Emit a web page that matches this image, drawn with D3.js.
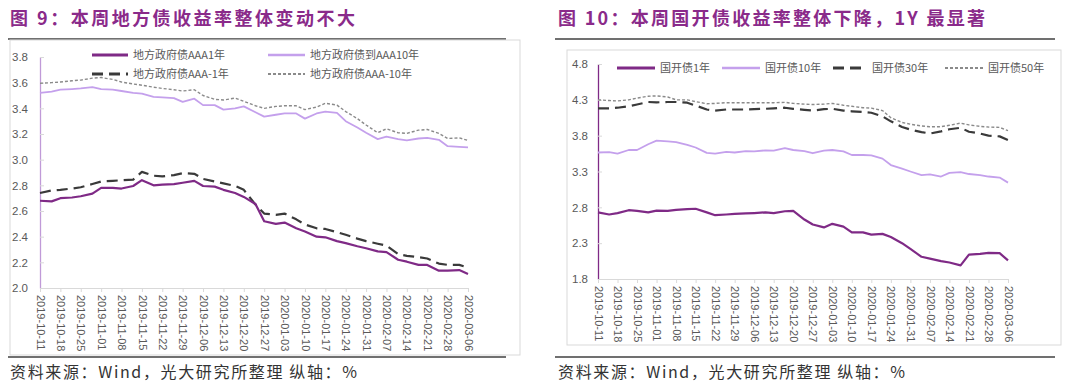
<!DOCTYPE html>
<html><head><meta charset="utf-8">
<script src="https://cdn.jsdelivr.net/npm/d3@7"></script>
<style>
html,body{margin:0;padding:0;background:#fff;}
svg{display:block;}
</style></head>
<body>
<svg id="c" width="1080" height="390"></svg>
<script>
// ---------- DATA ----------
const dates = ["2019-10-11","2019-10-15","2019-10-18","2019-10-22","2019-10-25","2019-10-29","2019-11-01","2019-11-05","2019-11-08","2019-11-12","2019-11-15","2019-11-19","2019-11-22","2019-11-26","2019-11-29","2019-12-03","2019-12-06","2019-12-10","2019-12-13","2019-12-17","2019-12-20","2019-12-24","2019-12-27","2019-12-31","2020-01-03","2020-01-07","2020-01-10","2020-01-14","2020-01-17","2020-01-21","2020-01-24","2020-01-28","2020-01-31","2020-02-04","2020-02-07","2020-02-11","2020-02-14","2020-02-18","2020-02-21","2020-02-25","2020-02-28","2020-03-03","2020-03-06"];
const tickLabels = ["2019-10-11","2019-10-18","2019-10-25","2019-11-01","2019-11-08","2019-11-15","2019-11-22","2019-11-29","2019-12-06","2019-12-13","2019-12-20","2019-12-27","2020-01-03","2020-01-10","2020-01-17","2020-01-24","2020-01-31","2020-02-07","2020-02-14","2020-02-21","2020-02-28","2020-03-06"];

// Figure 9: local government bonds
const localNames = ["地方政府债AAA1年","地方政府债到AAA10年","地方政府债AAA-1年","地方政府债AAA-10年"];
const localAAA1 = [2.68,2.675,2.70,2.705,2.715,2.735,2.78,2.78,2.775,2.795,2.84,2.80,2.805,2.81,2.82,2.835,2.795,2.79,2.765,2.74,2.71,2.655,2.52,2.50,2.51,2.465,2.44,2.40,2.395,2.365,2.35,2.325,2.31,2.285,2.28,2.22,2.205,2.18,2.18,2.135,2.135,2.14,2.11];
const localAAA10 = [3.52,3.53,3.545,3.55,3.555,3.565,3.55,3.545,3.535,3.52,3.515,3.49,3.485,3.48,3.45,3.475,3.425,3.425,3.39,3.40,3.415,3.37,3.335,3.35,3.36,3.36,3.32,3.36,3.375,3.365,3.30,3.25,3.21,3.16,3.18,3.16,3.15,3.165,3.17,3.155,3.105,3.10,3.095];
const localAAAm1 = [2.74,2.76,2.765,2.775,2.785,2.81,2.83,2.835,2.84,2.845,2.905,2.875,2.87,2.88,2.895,2.89,2.85,2.83,2.815,2.795,2.765,2.65,2.58,2.57,2.58,2.535,2.495,2.465,2.46,2.435,2.415,2.385,2.365,2.345,2.33,2.265,2.25,2.24,2.23,2.19,2.18,2.18,2.16];
const localAAAm10 = [3.595,3.60,3.605,3.615,3.62,3.635,3.64,3.625,3.605,3.59,3.58,3.565,3.555,3.545,3.535,3.545,3.50,3.47,3.465,3.48,3.455,3.42,3.40,3.415,3.42,3.42,3.39,3.41,3.44,3.425,3.375,3.32,3.27,3.21,3.24,3.21,3.205,3.23,3.235,3.205,3.165,3.17,3.15];
const localYTicks = [2.0,2.2,2.4,2.6,2.8,3.0,3.2,3.4,3.6,3.8];

// Figure 10: CDB bonds
const cdbNames = ["国开债1年","国开债10年","国开债30年","国开债50年"];
const cdb1 = [2.73,2.70,2.72,2.76,2.75,2.73,2.755,2.75,2.765,2.775,2.78,2.73,2.69,2.70,2.71,2.715,2.72,2.73,2.72,2.745,2.75,2.63,2.56,2.52,2.57,2.53,2.45,2.45,2.42,2.43,2.385,2.30,2.22,2.11,2.085,2.05,2.03,1.99,2.14,2.15,2.165,2.16,2.06];
const cdb10 = [3.565,3.57,3.55,3.60,3.60,3.68,3.73,3.72,3.71,3.67,3.635,3.56,3.55,3.575,3.565,3.585,3.58,3.595,3.59,3.625,3.60,3.585,3.555,3.59,3.60,3.58,3.53,3.53,3.525,3.48,3.39,3.34,3.30,3.25,3.26,3.23,3.28,3.29,3.265,3.25,3.23,3.215,3.145];
const cdb30 = [4.18,4.18,4.19,4.21,4.235,4.27,4.265,4.27,4.27,4.26,4.22,4.165,4.15,4.165,4.165,4.165,4.17,4.175,4.18,4.19,4.175,4.16,4.15,4.17,4.175,4.15,4.14,4.13,4.12,4.07,4.00,3.92,3.885,3.85,3.83,3.86,3.89,3.91,3.855,3.83,3.80,3.79,3.74];
const cdb50 = [4.30,4.29,4.285,4.30,4.325,4.35,4.355,4.34,4.30,4.30,4.275,4.245,4.25,4.26,4.26,4.26,4.26,4.26,4.26,4.265,4.25,4.24,4.235,4.24,4.25,4.225,4.21,4.19,4.185,4.15,4.05,3.985,3.96,3.935,3.925,3.925,3.945,3.975,3.95,3.93,3.92,3.915,3.87];
const cdbYTicks = [1.8,2.3,2.8,3.3,3.8,4.3,4.8];

// ---------- STYLE ----------
const parse = d3.timeParse("%Y-%m-%d");
const styles = [
  {color:"#7f2a86", width:2.2, dash:null},
  {color:"#c4a0ec", width:1.8, dash:null},
  {color:"#3a3a3a", width:2.2, dash:"11,6"},
  {color:"#8a8a8a", width:1.4, dash:"3,2"}
];
const svg = d3.select("#c");
const titleColor = "#8a2a8a";
const cjk = "'Noto Sans CJK SC','Noto Sans',sans-serif";
const latin = "'Liberation Sans',Arial,sans-serif";

function panel(cfg){
  const g = svg.append("g");
  // title
  g.append("text").attr("x",cfg.titleX).attr("y",25)
    .attr("font-family",cjk).attr("font-weight","bold").attr("font-size",18)
    .attr("fill",titleColor).attr("textLength",cfg.titleW).attr("lengthAdjust","spacing")
    .text(cfg.title);
  // top & bottom separators
  g.append("line").attr("x1",cfg.sepX0).attr("x2",cfg.sepX1).attr("y1",39).attr("y2",39)
    .attr("stroke","#404040").attr("stroke-width",1.3);
  g.append("line").attr("x1",cfg.sepX0).attr("x2",cfg.sepX1).attr("y1",357).attr("y2",357)
    .attr("stroke","#404040").attr("stroke-width",1.3);
  // frame
  g.append("rect").attr("x",cfg.box[0]).attr("y",cfg.box[1]).attr("width",cfg.box[2]).attr("height",cfg.box[3])
    .attr("fill","none").attr("stroke","#d9d9d9").attr("stroke-width",1);
  // source
  g.append("text").attr("x",cfg.titleX).attr("y",378)
    .attr("font-family",cjk).attr("font-size",16).attr("fill","#333")
    .attr("textLength",cfg.srcW).attr("lengthAdjust","spacing")
    .text("资料来源：Wind，光大研究所整理 纵轴：%");

  const x = d3.scaleTime().domain([parse(tickLabels[0]), parse(tickLabels[tickLabels.length-1])]).range(cfg.xRange);
  const y = d3.scaleLinear().domain(cfg.yDomain).range(cfg.yRange);

  // x axis
  const xa = g.append("g").attr("transform",`translate(0,${cfg.yRange[0]})`)
    .call(d3.axisBottom(x).tickValues(tickLabels.map(parse)).tickSize(4).tickFormat(d3.timeFormat("%Y-%m-%d")));
  xa.select(".domain").attr("stroke","#d9d9d9");
  xa.selectAll(".tick line").attr("stroke","#d9d9d9");
  xa.selectAll(".tick text").attr("font-family",latin).attr("font-size",11).attr("fill","#595959")
    .attr("transform","rotate(90)").attr("text-anchor","start").attr("dy","0.35em").attr("x",7).attr("y",0);
  // y axis
  const ya = g.append("g").attr("transform",`translate(${cfg.xRange[0]},0)`)
    .call(d3.axisLeft(y).tickValues(cfg.yTicks).tickSize(0).tickPadding(cfg.yPad).tickFormat(d3.format(".1f")));
  ya.select(".domain").attr("stroke",cfg.yAxisColor).attr("stroke-width",1.3);
  ya.selectAll(".tick text").attr("font-family",latin).attr("font-size",11.5).attr("fill","#595959");
  ya.selectAll(".tick").append("line").attr("x1",0).attr("x2",4).attr("stroke","#d9d9d9");

  // lines (draw back-to-front)
  const order = [3,2,1,0];
  order.forEach(i=>{
    const line = d3.line().x((d,k)=>x(parse(dates[k]))).y(d=>y(d));
    g.append("path").datum(cfg.series[i]).attr("d",line)
      .attr("fill","none").attr("stroke",styles[i].color).attr("stroke-width",styles[i].width)
      .attr("stroke-dasharray",styles[i].dash).attr("stroke-linejoin","round");
  });

  // legend
  cfg.legend.forEach((p,i)=>{
    const st = styles[i];
    g.append("line").attr("x1",p[0]).attr("x2",p[1]).attr("y1",p[2]).attr("y2",p[2])
      .attr("stroke",st.color).attr("stroke-width",st.width+0.6).attr("stroke-dasharray",st.dash);
    g.append("text").attr("x",p[1]+5).attr("y",p[2]).attr("dy","0.35em")
      .attr("font-family",cjk).attr("font-size",11).attr("fill","#595959").text(cfg.names[i]);
  });
}

panel({
  title:"图 9：本周地方债收益率整体变动不大", titleX:10, titleW:345, srcW:347,
  sepX0:8, sepX1:506, box:[10,40,510,315],
  xRange:[40,468], yDomain:[2.0,3.8], yRange:[288,57], yTicks:localYTicks, yPad:12,
  yAxisColor:"#c09ad8",
  series:[localAAA1, localAAA10, localAAAm1, localAAAm10], names:localNames,
  legend:[[92,128,55],[268,305,55],[92,128,74],[268,305,74]]
});
panel({
  title:"图 10：本周国开债收益率整体下降，1Y 最显著", titleX:558, titleW:427, srcW:347,
  sepX0:555, sepX1:1055, box:[567,50,494,295],
  xRange:[598,1008], yDomain:[1.8,4.8], yRange:[279,64], yTicks:cdbYTicks, yPad:10,
  yAxisColor:"#7f2a86",
  series:[cdb1, cdb10, cdb30, cdb50], names:cdbNames,
  legend:[[617,655,68],[722,760,68],[833,867,68],[945,983,68]]
});
</script>
</body></html>
